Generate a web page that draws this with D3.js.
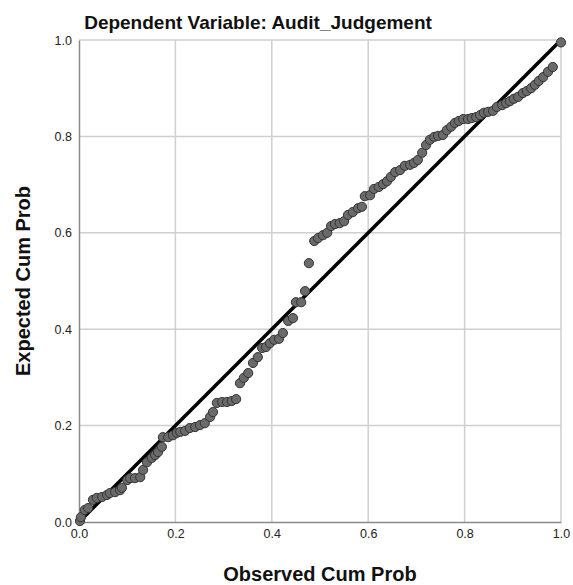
<!DOCTYPE html>
<html>
<head>
<meta charset="utf-8">
<script src="https://cdn.jsdelivr.net/npm/d3@7"></script>
<style>
  body { margin: 0; background: #fff; }
  text { font-family: "Liberation Sans", Arial, sans-serif; }
</style>
</head>
<body>
<script>
// P-P plot: observed vs expected cumulative probability
let chartTitle = 'Dependent Variable: Audit_Judgement'
let xLabel = 'Observed Cum Prob'
let yLabel = 'Expected Cum Prob'
let tickValues = [0, 0.2, 0.4, 0.6, 0.8, 1.0]

let observed = [0.002, 0.004, 0.012, 0.019, 0.029, 0.037, 0.048, 0.058, 0.064, 0.075,
  0.085, 0.089, 0.100, 0.106, 0.116, 0.127, 0.133, 0.141, 0.151, 0.158,
  0.164, 0.172, 0.174, 0.185, 0.195, 0.203, 0.210, 0.220, 0.230, 0.241,
  0.251, 0.261, 0.272, 0.278, 0.286, 0.297, 0.307, 0.317, 0.326, 0.334,
  0.342, 0.351, 0.361, 0.371, 0.380, 0.388, 0.396, 0.405, 0.415, 0.423,
  0.434, 0.444, 0.450, 0.461, 0.469, 0.477, 0.488, 0.496, 0.506, 0.515,
  0.523, 0.531, 0.541, 0.550, 0.558, 0.568, 0.579, 0.587, 0.593, 0.604,
  0.612, 0.622, 0.631, 0.639, 0.647, 0.656, 0.666, 0.676, 0.687, 0.695,
  0.703, 0.712, 0.720, 0.728, 0.737, 0.745, 0.755, 0.763, 0.772, 0.780,
  0.788, 0.797, 0.807, 0.815, 0.824, 0.832, 0.840, 0.849, 0.859, 0.867,
  0.878, 0.886, 0.894, 0.902, 0.911, 0.921, 0.929, 0.938, 0.946, 0.954,
  0.963, 0.973, 0.983, 1.000]
let expected = [0.002, 0.010, 0.025, 0.029, 0.046, 0.050, 0.052, 0.056, 0.060, 0.062,
  0.066, 0.071, 0.087, 0.091, 0.091, 0.093, 0.108, 0.124, 0.133, 0.139,
  0.145, 0.156, 0.176, 0.176, 0.180, 0.185, 0.187, 0.189, 0.195, 0.197,
  0.201, 0.205, 0.218, 0.228, 0.247, 0.249, 0.249, 0.251, 0.255, 0.288,
  0.299, 0.309, 0.330, 0.342, 0.361, 0.363, 0.371, 0.378, 0.380, 0.392,
  0.417, 0.423, 0.456, 0.456, 0.479, 0.537, 0.583, 0.589, 0.595, 0.600,
  0.614, 0.618, 0.620, 0.624, 0.637, 0.643, 0.651, 0.654, 0.676, 0.678,
  0.691, 0.695, 0.701, 0.707, 0.716, 0.726, 0.730, 0.739, 0.741, 0.745,
  0.751, 0.766, 0.782, 0.793, 0.799, 0.801, 0.803, 0.813, 0.820, 0.828,
  0.832, 0.836, 0.836, 0.838, 0.840, 0.844, 0.849, 0.851, 0.853, 0.861,
  0.865, 0.869, 0.873, 0.878, 0.882, 0.890, 0.894, 0.900, 0.907, 0.915,
  0.923, 0.934, 0.944, 0.995]
let diagonal = [0, 1]

let width = 573
let height = 585
let margin = { left: 79, top: 40, right: 12, bottom: 63 }
let plotW = width - margin.left - margin.right
let plotH = height - margin.top - margin.bottom

let svg = d3.select('body').append('svg')
  .attr('width', width)
  .attr('height', height)

let x = d3.scaleLinear().domain([0, 1]).range([margin.left, margin.left + plotW])
let y = d3.scaleLinear().domain([0, 1]).range([margin.top + plotH, margin.top])

// 网格线
svg.append('g')
  .selectAll('line.gx')
  .data(tickValues.slice(1))
  .enter().append('line')
  .attr('x1', d => x(d)).attr('x2', d => x(d))
  .attr('y1', y(0)).attr('y2', y(1))
  .attr('stroke', '#cfcfcf').attr('stroke-width', 1.5)
svg.append('g')
  .selectAll('line.gy')
  .data(tickValues.slice(1))
  .enter().append('line')
  .attr('x1', x(0)).attr('x2', x(1))
  .attr('y1', d => y(d)).attr('y2', d => y(d))
  .attr('stroke', '#cfcfcf').attr('stroke-width', 1.5)

// 坐标轴
let fmt = d3.format('.1f')
let xAxis = svg.append('g')
  .attr('transform', 'translate(0,' + y(0) + ')')
  .call(d3.axisBottom(x).tickValues(tickValues).tickFormat(fmt).tickSize(0).tickPadding(7))
let yAxis = svg.append('g')
  .attr('transform', 'translate(' + x(0) + ',0)')
  .call(d3.axisLeft(y).tickValues(tickValues).tickFormat(fmt).tickSize(0).tickPadding(7))
;[xAxis, yAxis].forEach(a => {
  a.select('.domain').attr('stroke', '#8a8a8a').attr('stroke-width', 1.5)
  a.selectAll('text').attr('font-size', 12.5).attr('fill', '#222')
    .attr('font-family', '"Liberation Sans", Arial, sans-serif')
})

// 对角线
svg.append('line')
  .attr('x1', x(diagonal[0])).attr('y1', y(diagonal[0]))
  .attr('x2', x(diagonal[1])).attr('y2', y(diagonal[1]))
  .attr('stroke', '#000').attr('stroke-width', 3.5)

// 散点
svg.append('g')
  .selectAll('circle')
  .data(observed.map((d, i) => [d, expected[i]]))
  .enter().append('circle')
  .attr('cx', d => x(d[0]))
  .attr('cy', d => y(d[1]))
  .attr('r', 4.6)
  .attr('fill', '#6a6a6a')
  .attr('stroke', '#333')
  .attr('stroke-width', 1)

// 标题
svg.append('text')
  .attr('x', 258).attr('y', 29)
  .attr('text-anchor', 'middle')
  .attr('font-size', 19).attr('font-weight', 'bold').attr('fill', '#111')
  .text(chartTitle)
svg.append('text')
  .attr('x', x(0.5)).attr('y', 581)
  .attr('text-anchor', 'middle')
  .attr('font-size', 20).attr('font-weight', 'bold').attr('fill', '#111')
  .text(xLabel)
svg.append('text')
  .attr('transform', 'translate(30,' + y(0.5) + ') rotate(-90)')
  .attr('text-anchor', 'middle')
  .attr('font-size', 20).attr('font-weight', 'bold').attr('fill', '#111')
  .text(yLabel)
</script>
</body>
</html>
